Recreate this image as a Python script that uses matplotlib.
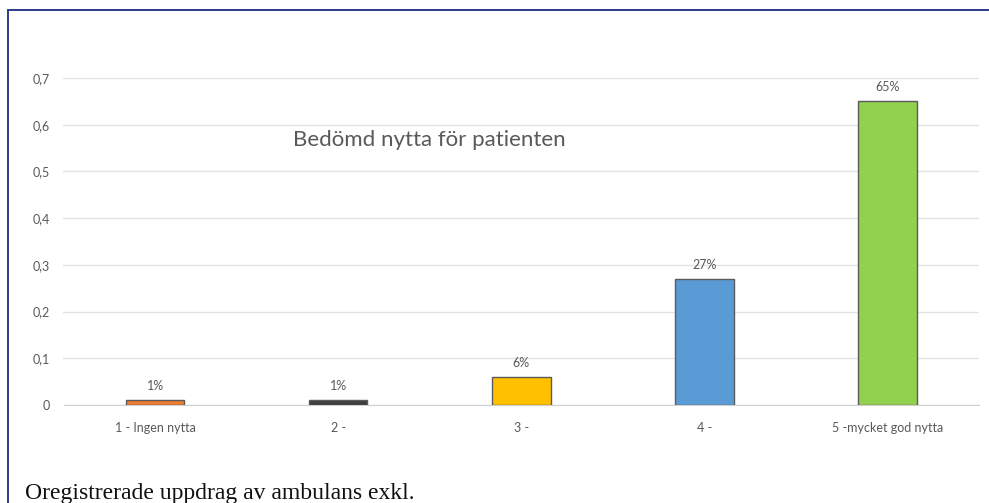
import matplotlib

matplotlib.use('Agg')
import matplotlib.pyplot as plt
from matplotlib.patches import Rectangle
from matplotlib.ticker import FuncFormatter

categories = ['1 - Ingen nytta', '2 -', '3 -', '4 -', '5 -mycket god nytta']
values = [0.01, 0.01, 0.06, 0.27, 0.65]
value_labels = ['1%', '1%', '6%', '27%', '65%']
bar_colors = ['#ED7D31', '#3F3F3F', '#FFC000', '#5B9BD5', '#92D050']
yticks = [0, 0.1, 0.2, 0.3, 0.4, 0.5, 0.6, 0.7]

W, H = 989, 503
fig = plt.figure(figsize=(W / 100, H / 100), dpi=100)
fig.patch.set_facecolor('white')

# navy frame (only top/left edges visible in the crop)
fig.add_artist(Rectangle((8 / W, -0.1), 1.2, (H - 10) / H + 0.1,
                         transform=fig.transFigure, fill=False,
                         edgecolor='#2E3A87', linewidth=1.4))

ax = fig.add_axes([63.5 / W, 1 - 405 / H, (979 - 63.5) / W, (405 - 78) / H])
ax.set_facecolor('none')

x = range(len(categories))
ax.bar(x, values, width=0.32, color=bar_colors, edgecolor='#5a5a5a',
       linewidth=1.0, zorder=3)
for xi, v, lab in zip(x, values, value_labels):
    ax.annotate(lab, (xi, v), xytext=(0, 6), textcoords='offset points',
                ha='center', va='bottom', fontsize=9, color='#595959',
                family='Lato', annotation_clip=False)

ax.set_xlim(-0.5, len(categories) - 0.5)
ax.set_ylim(0, 0.7)
ax.set_yticks(yticks)
ax.yaxis.set_major_formatter(FuncFormatter(
    lambda v, _: '0' if v == 0 else f'{v:.1f}'.replace('.', ',')))
ax.set_xticks(list(x))
ax.set_xticklabels(categories)
ax.tick_params(length=0, labelsize=9, labelcolor='#595959')
ax.tick_params(axis='x', pad=12)
ax.tick_params(axis='y', pad=10)
for lab in ax.get_xticklabels() + ax.get_yticklabels():
    lab.set_family('Lato')

ax.grid(axis='y', color='#e3e3e3', linewidth=1.0, zorder=0)
ax.set_axisbelow(True)
for s in ['top', 'right', 'left']:
    ax.spines[s].set_visible(False)
ax.spines['bottom'].set_color('#d0d0d0')

ax.text(0.40, 0.81, 'Bedömd nytta för patienten', transform=ax.transAxes,
        ha='center', va='center', fontsize=16, color='#595959', family='Lato')

fig.text(25 / W, 1 - 499 / H, 'Oregistrerade uppdrag av ambulans exkl.',
         ha='left', va='baseline', fontsize=17, color='#111111',
         family='Liberation Serif')

fig.savefig('out.png', dpi=100)
